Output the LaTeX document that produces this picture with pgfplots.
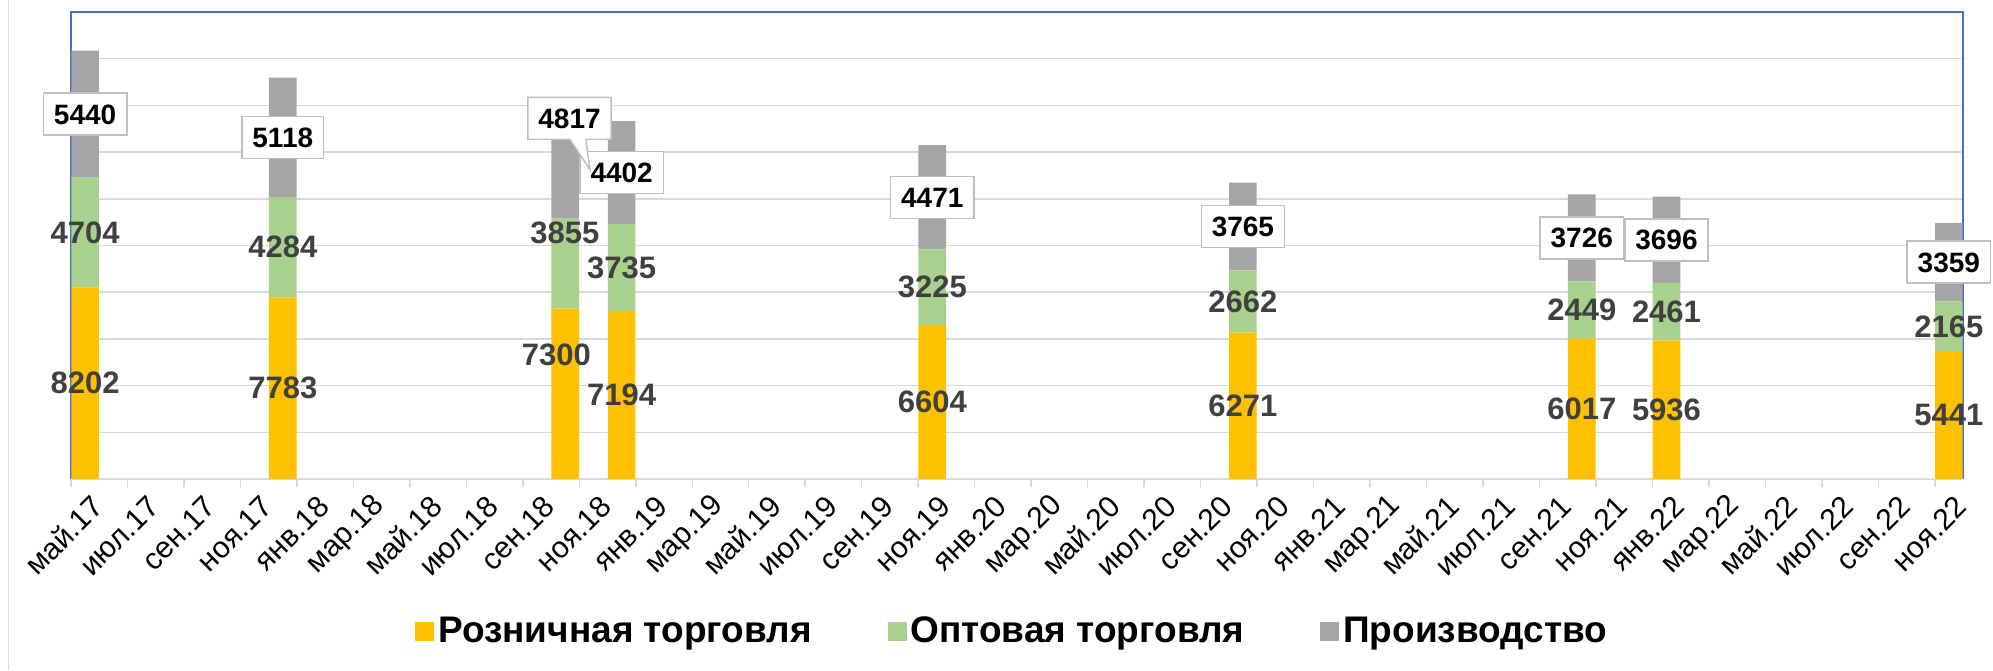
\documentclass[border=0pt]{standalone}
\usepackage{fontspec}
\setmainfont{Liberation Sans}
\usepackage{pgfplots}
\pgfplotsset{compat=1.18}
\usetikzlibrary{shapes.callouts}
\definecolor{cRet}{HTML}{FFC000}
\definecolor{cWho}{HTML}{A9D18E}
\definecolor{cPro}{HTML}{A5A5A5}
\definecolor{cGrid}{HTML}{D9D9D9}
\definecolor{cLab}{HTML}{404040}
\definecolor{cBox}{HTML}{BFBFBF}
\definecolor{cBlue}{HTML}{4472C4}
\pgfplotsset{
  base/.style={
    scale only axis, width=946pt, height=233.5pt,
    at={(35.5pt,95.5pt)}, anchor=south west,
    xmin=0, xmax=67, ymin=0, ymax=20000,
  },
  darklab/.style={draw=none, mark=none, nodes near coords, point meta=explicit symbolic,
    every node near coord/.append style={anchor=center, text=cLab, inner sep=0pt,
      font=\bfseries\fontsize{15.5}{18}\selectfont}},
  boxlab/.style={draw=none, mark=none, nodes near coords, point meta=explicit symbolic,
    every node near coord/.append style={anchor=center, text=black, fill=white, draw=cBox,
      line width=0.75pt, inner xsep=5.25pt, inner ysep=5.5pt, text height=10pt, text depth=0pt,
      font=\bfseries\fontsize{14}{16}\selectfont}},
}
\begin{document}
\begin{tikzpicture}
\useasboundingbox (0,0) rectangle (996.5pt,335pt);
\draw[cGrid, line width=0.75pt] (4.15pt,0) -- (4.15pt,335pt);
\begin{axis}[base, ybar stacked, bar width=0.98,
  axis line style={draw=none},
  ytick={0,2000,...,20000}, yticklabels={}, ymajorgrids,
  grid style={cGrid, line width=0.75pt}, ytick style={draw=none},
  xtick={0,2,...,66},
  xticklabels={май.17,июл.17,сен.17,ноя.17,янв.18,мар.18,май.18,июл.18,сен.18,ноя.18,янв.19,мар.19,май.19,июл.19,сен.19,ноя.19,янв.20,мар.20,май.20,июл.20,сен.20,ноя.20,янв.21,мар.21,май.21,июл.21,сен.21,ноя.21,янв.22,мар.22,май.22,июл.22,сен.22,ноя.22},
  xtick pos=left, tick align=outside, major tick length=4pt,
  xtick style={draw=cGrid, line width=0.75pt},
  xticklabel style={rotate=45, anchor=east, inner sep=0pt, text=black,
    font=\fontsize{15}{17}\selectfont, xshift=4.5pt, yshift=-14.5pt},
  clip=false,
  legend columns=3,
  legend style={at={(0.498,-0.3266)}, anchor=center, draw=none, fill=none,
    font=\bfseries\fontsize{18.5}{21}\selectfont, text=black,
    /tikz/every even column/.append style={column sep=36pt}},
  legend image code/.code={\fill[#1] (0pt,-4.75pt) rectangle (9.5pt,4.75pt);},
]
\addplot[fill=cRet, draw=none] coordinates {(0.5,8202) (7.5,7783) (17.5,7300) (19.5,7194) (30.5,6604) (41.5,6271) (53.5,6017) (56.5,5936) (66.5,5441)};
\addplot[fill=cWho, draw=none] coordinates {(0.5,4704) (7.5,4284) (17.5,3855) (19.5,3735) (30.5,3225) (41.5,2662) (53.5,2449) (56.5,2461) (66.5,2165)};
\addplot[fill=cPro, draw=none] coordinates {(0.5,5440) (7.5,5118) (17.5,4817) (19.5,4402) (30.5,4471) (41.5,3765) (53.5,3726) (56.5,3696) (66.5,3359)};
\legend{Розничная торговля, Оптовая торговля, Производство}
\draw[cGrid, line width=1pt] (rel axis cs:0,0) -- (rel axis cs:1,0);
\draw[cBlue, line width=0.6pt] (rel axis cs:0,0) -- (rel axis cs:0,1) -- (rel axis cs:1,1) -- (rel axis cs:1,0);
\end{axis}
\begin{axis}[base, hide axis, clip=false]
% retail labels
\addplot[darklab] coordinates {(0.5,4101)[8202] (7.5,3891.5)[7783] (17.185,5327)[7300] (19.5,3597)[7194] (30.5,3302)[6604] (41.5,3135.5)[6271] (53.5,3008.5)[6017] (56.5,2968)[5936] (66.5,2720.5)[5441]};
% wholesale labels
\addplot[darklab] coordinates {(0.5,10554)[4704] (7.5,9925)[4284] (17.49,10551)[3855] (19.5,9061.5)[3735] (30.5,8216.5)[3225] (41.5,7602)[2662] (53.5,7241.5)[2449] (56.5,7166.5)[2461] (66.5,6523.5)[2165]};
% production labels
\addplot[boxlab] coordinates {(0.5,15626)[5440] (7.5,14626)[5118] (19.5,13130)[4402] (30.5,12064.5)[4471] (41.5,10815.5)[3765] (53.5,10329)[3726] (56.5,10245)[3696] (66.5,9285.5)[3359]};
\addplot[boxlab, every node near coord/.append style={rectangle callout, callout relative pointer={(6pt,-15pt)}, callout pointer width=8pt}] coordinates {(17.655,15440)[4817]};
\end{axis}
\end{tikzpicture}
\end{document}
